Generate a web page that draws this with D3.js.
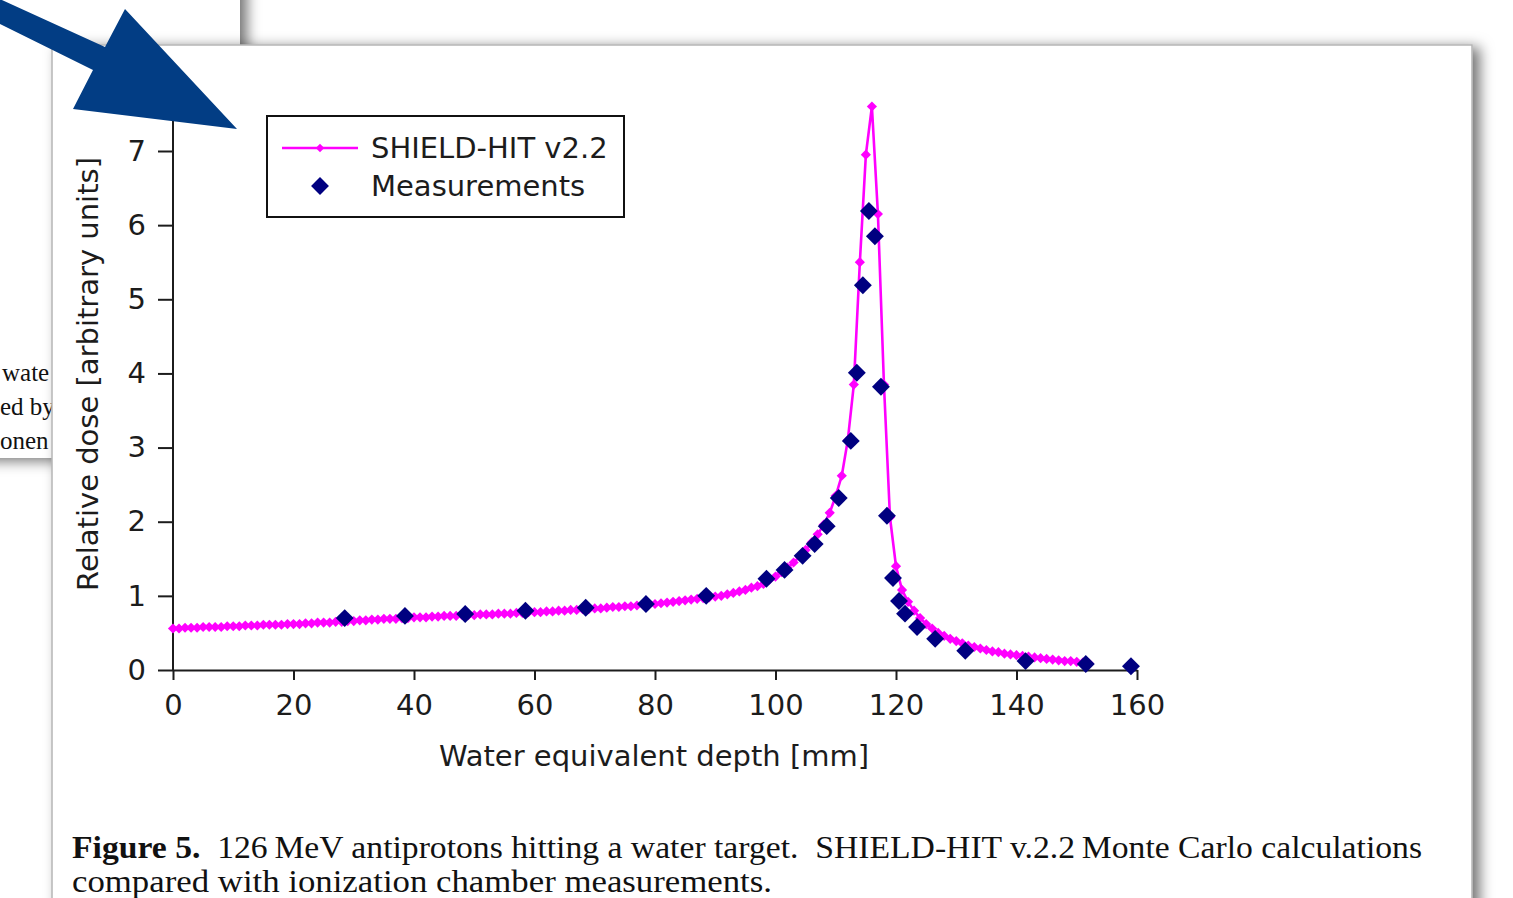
<!DOCTYPE html>
<html>
<head>
<meta charset="utf-8">
<script src="https://cdn.jsdelivr.net/npm/d3@7"></script>
<style>
html, body { margin: 0; padding: 0; background: #fff; overflow: hidden; }
svg { display: block; }
</style>
</head>
<body>
<svg id="chart" width="1513" height="898"></svg>
<script>
// SHIELD-HIT v2.2 simulation (depth in mm, relative dose)
var simDepth = [
  0, 1, 2, 3, 4, 5, 6, 7, 8, 9,
  10, 11, 12, 13, 14, 15, 16, 17, 18, 19,
  20, 21, 22, 23, 24, 25, 26, 27, 28, 29,
  30, 31, 32, 33, 34, 35, 36, 37, 38, 39,
  40, 41, 42, 43, 44, 45, 46, 47, 48, 49,
  50, 51, 52, 53, 54, 55, 56, 57, 58, 59,
  60, 61, 62, 63, 64, 65, 66, 67, 68, 69,
  70, 71, 72, 73, 74, 75, 76, 77, 78, 79,
  80, 81, 82, 83, 84, 85, 86, 87, 88, 89,
  90, 91, 92, 93, 94, 95, 96, 97, 98, 99,
  100, 101, 102, 103, 104, 105, 106, 107, 108, 109,
  110, 111, 112, 113, 114, 115, 116, 117, 118, 119,
  120, 121, 122, 123, 124, 125, 126, 127, 128, 129,
  130, 131, 132, 133, 134, 135, 136, 137, 138, 139,
  140, 141, 142, 143, 144, 145, 146, 147, 148, 149,
  150, 151, 152
];
var simDose = [
  0.56, 0.56, 0.57, 0.57, 0.57, 0.58, 0.58, 0.58, 0.58, 0.59,
  0.59, 0.59, 0.60, 0.60, 0.60, 0.61, 0.61, 0.61, 0.61, 0.62,
  0.62, 0.62, 0.63, 0.63, 0.64, 0.64, 0.64, 0.65, 0.65, 0.66,
  0.66, 0.67, 0.67, 0.68, 0.68, 0.69, 0.69, 0.69, 0.70, 0.70,
  0.71, 0.71, 0.71, 0.72, 0.72, 0.73, 0.73, 0.73, 0.74, 0.74,
  0.74, 0.75, 0.75, 0.75, 0.76, 0.76, 0.76, 0.77, 0.77, 0.78,
  0.78, 0.78, 0.79, 0.79, 0.80, 0.80, 0.81, 0.81, 0.82, 0.82,
  0.83, 0.83, 0.84, 0.85, 0.85, 0.86, 0.86, 0.87, 0.88, 0.89,
  0.89, 0.90, 0.91, 0.92, 0.93, 0.94, 0.95, 0.96, 0.97, 0.98,
  0.99, 1.00, 1.02, 1.04, 1.06, 1.08, 1.11, 1.13, 1.16, 1.22,
  1.26, 1.32, 1.38, 1.45, 1.53, 1.62, 1.72, 1.83, 1.96, 2.12,
  2.35, 2.62, 3.10, 3.85, 5.50, 6.95, 7.60, 6.15, 3.85, 2.06,
  1.40, 1.08, 0.92, 0.80, 0.70, 0.62, 0.56, 0.50, 0.46, 0.42,
  0.39, 0.36, 0.33, 0.31, 0.29, 0.27, 0.25, 0.24, 0.22, 0.21,
  0.20, 0.19, 0.18, 0.17, 0.16, 0.15, 0.14, 0.13, 0.12, 0.12,
  0.11, 0.10, 0.09
];

// Ionization chamber measurements
var measDepth = [28.5, 38.5, 48.5, 58.5, 68.5, 78.5, 88.5, 98.5, 101.5, 104.5,
  106.5, 108.5, 110.5, 112.5, 113.5, 114.5, 115.5, 116.5, 117.5, 118.5,
  119.5, 120.5, 121.5, 123.5, 126.5, 131.5, 141.5, 151.5, 159];
var measDose = [0.70, 0.73, 0.755, 0.80, 0.84, 0.89, 1.00, 1.23, 1.35, 1.54,
  1.70, 1.94, 2.32, 3.09, 4.01, 5.19, 6.19, 5.85, 3.82, 2.08,
  1.24, 0.93, 0.76, 0.58, 0.42, 0.26, 0.12, 0.08, 0.05];

var xTicks = [0, 20, 40, 60, 80, 100, 120, 140, 160];
var yTicks = [0, 1, 2, 3, 4, 5, 6, 7];

var seriesNames = ["SHIELD-HIT v2.2", "Measurements"];
var captionBold = "Figure 5.";
var captionRest = "\u00a0 126\u2009MeV antiprotons hitting a water target.\u00a0 SHIELD-HIT v.2.2\u2009Monte Carlo calculations";
var captionLine2 = "compared with ionization chamber measurements.";
var backPageLines = ["wate", "ed by", "onen"];

var svg = d3.select("#chart");
var axisColor = "#1c1c1c";
var sansFont = "'DejaVu Sans', Verdana, sans-serif";
var serifFont = "'Liberation Serif', 'Times New Roman', serif";
var labelSize = "29px";

// Schatten fuer die Seiten
var defs = svg.append("defs");
var shadow = defs.append("filter")
    .attr("id", "pageShadow")
    .attr("x", "-10%").attr("y", "-10%")
    .attr("width", "130%").attr("height", "130%");
shadow.append("feDropShadow")
    .attr("dx", 7).attr("dy", 3)
    .attr("stdDeviation", 7)
    .attr("flood-color", "#000")
    .attr("flood-opacity", 0.55);

// Hintere Seite (links oben)
svg.append("rect")
    .attr("x", -30).attr("y", -30)
    .attr("width", 270).attr("height", 488)
    .attr("fill", "#fff")
    .attr("filter", "url(#pageShadow)");

backPageLines.forEach(function(t, i) {
    svg.append("text")
        .attr("x", i === 0 ? 2 : 0)
        .attr("y", 381 + i * 34)
        .attr("font-family", serifFont)
        .attr("font-size", 25)
        .attr("fill", "#111")
        .text(t);
});

// Vordere Seite
svg.append("rect")
    .attr("x", 52).attr("y", 45)
    .attr("width", 1420).attr("height", 900)
    .attr("fill", "#fff")
    .attr("stroke", "#b5b5b5")
    .attr("stroke-width", 1.5)
    .attr("filter", "url(#pageShadow)");

// Skalen
var x = d3.scaleLinear().domain([0, 160]).range([173, 1137]);
var y = d3.scaleLinear().domain([0, 7]).range([670, 151]);

// x-Achse
var xAxisG = svg.append("g")
    .attr("transform", "translate(0," + y(0) + ")")
    .call(d3.axisBottom(x).tickValues(xTicks).tickSize(10).tickSizeOuter(0).tickPadding(14));

// y-Achse
var yAxisG = svg.append("g")
    .attr("transform", "translate(" + x(0) + ",0)")
    .call(d3.axisLeft(y).tickValues(yTicks).tickFormat(d3.format("d"))
        .tickSize(15).tickSizeOuter(0).tickPadding(12));
yAxisG.select(".domain").remove();
yAxisG.append("line")
    .attr("x1", 0).attr("x2", 0)
    .attr("y1", y(0)).attr("y2", y(7.6))
    .attr("stroke", axisColor)
    .attr("stroke-width", 2);

[xAxisG, yAxisG].forEach(function(g) {
    g.selectAll(".domain").attr("stroke", axisColor).attr("stroke-width", 2);
    g.selectAll(".tick line").attr("stroke", axisColor).attr("stroke-width", 2);
    g.selectAll(".tick text")
        .attr("fill", axisColor)
        .style("font-family", sansFont)
        .style("font-size", labelSize);
});

// Achsentitel
svg.append("text")
    .attr("x", 654).attr("y", 766)
    .attr("text-anchor", "middle")
    .attr("fill", axisColor)
    .style("font-family", sansFont)
    .style("font-size", labelSize)
    .text("Water equivalent depth [mm]");

svg.append("text")
    .attr("transform", "translate(98,374) rotate(-90)")
    .attr("text-anchor", "middle")
    .attr("fill", axisColor)
    .style("font-family", sansFont)
    .style("font-size", labelSize)
    .text("Relative dose [arbitrary units]");

// Simulationskurve
var simData = simDepth.map(function(d, i) { return [d, simDose[i]]; });
var measData = measDepth.map(function(d, i) { return [d, measDose[i]]; });

svg.append("path")
    .datum(simData)
    .attr("fill", "none")
    .attr("stroke", "#ff00ff")
    .attr("stroke-width", 2.6)
    .attr("d", d3.line().x(function(d) { return x(d[0]); }).y(function(d) { return y(d[1]); }));

var smallDiamond = d3.symbol().type(d3.symbolSquare).size(52);
svg.append("g").selectAll("path")
    .data(simData)
    .enter().append("path")
    .attr("d", smallDiamond)
    .attr("transform", function(d) { return "translate(" + x(d[0]) + "," + y(d[1]) + ") rotate(45)"; })
    .attr("fill", "#ff00ff");

// Messpunkte
var bigDiamond = d3.symbol().type(d3.symbolSquare).size(160);
svg.append("g").selectAll("path")
    .data(measData)
    .enter().append("path")
    .attr("d", bigDiamond)
    .attr("transform", function(d) { return "translate(" + x(d[0]) + "," + y(d[1]) + ") rotate(45)"; })
    .attr("fill", "#000080");

// Legende
var legend = svg.append("g");
legend.append("rect")
    .attr("x", 267).attr("y", 116)
    .attr("width", 357).attr("height", 101)
    .attr("fill", "#fff")
    .attr("stroke", "#111")
    .attr("stroke-width", 2);
legend.append("line")
    .attr("x1", 282).attr("x2", 358)
    .attr("y1", 148).attr("y2", 148)
    .attr("stroke", "#ff00ff")
    .attr("stroke-width", 2.4);
legend.append("path")
    .attr("d", d3.symbol().type(d3.symbolSquare).size(36))
    .attr("transform", "translate(320,148) rotate(45)")
    .attr("fill", "#ff00ff");
legend.append("path")
    .attr("d", bigDiamond)
    .attr("transform", "translate(320,186) rotate(45)")
    .attr("fill", "#000080");
seriesNames.forEach(function(name, i) {
    legend.append("text")
        .attr("x", 371)
        .attr("y", 158 + i * 38)
        .attr("fill", axisColor)
        .style("font-family", sansFont)
        .style("font-size", labelSize)
        .text(name);
});

// Bildunterschrift
var cap1 = svg.append("text")
    .attr("x", 72).attr("y", 858)
    .attr("fill", "#111")
    .attr("textLength", 1350)
    .attr("lengthAdjust", "spacingAndGlyphs")
    .style("font-family", serifFont)
    .style("font-size", "32px");
cap1.append("tspan").attr("font-weight", "bold").text(captionBold);
cap1.append("tspan").text(captionRest);

svg.append("text")
    .attr("x", 72).attr("y", 892)
    .attr("fill", "#111")
    .attr("textLength", 700)
    .attr("lengthAdjust", "spacingAndGlyphs")
    .style("font-family", serifFont)
    .style("font-size", "32px")
    .text(captionLine2);

// Blauer Pfeil oben links
svg.append("polygon")
    .attr("points", "-20,-10 105,47 125,9 237,129 73,109 93,70 -20,14")
    .attr("fill", "#023d84");
</script>
</body>
</html>
